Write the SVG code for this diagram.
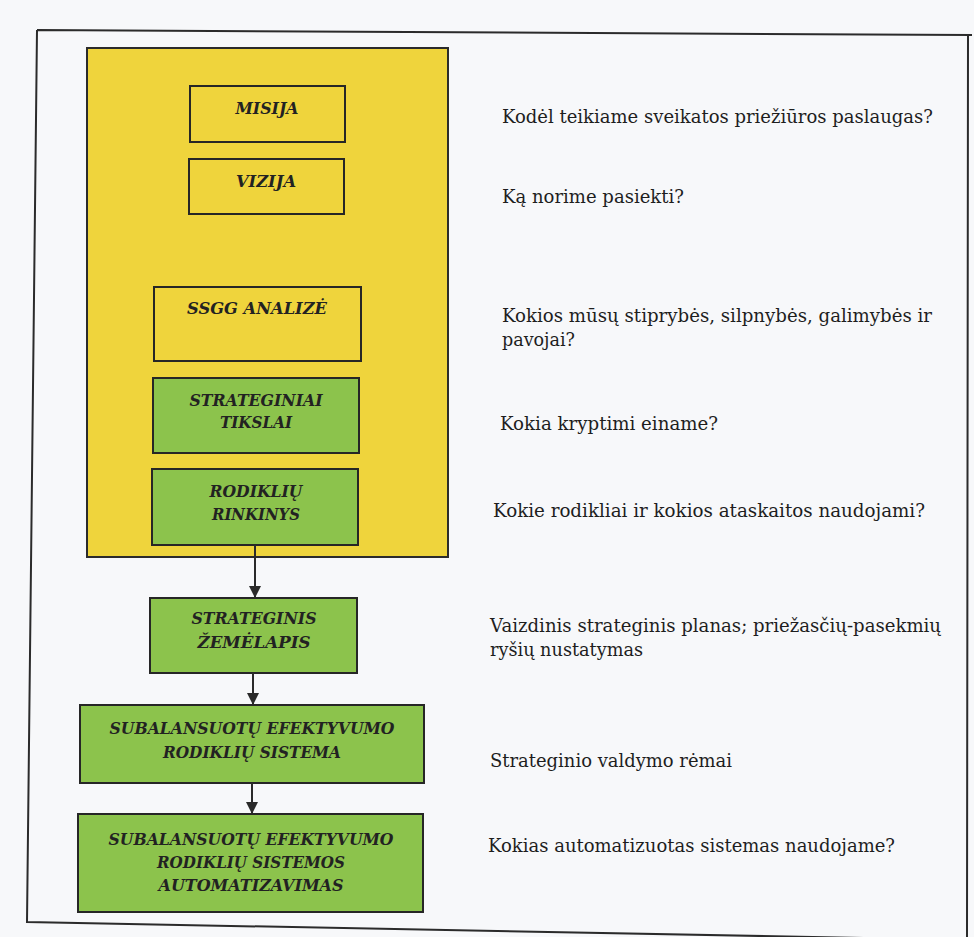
<svg xmlns="http://www.w3.org/2000/svg" width="974" height="937" viewBox="0 0 974 937">
  <defs>
    <marker id="arrow" markerWidth="12" markerHeight="12" refX="11" refY="6" orient="auto" markerUnits="userSpaceOnUse">
      <path d="M0,0 L12,6 L0,12 Z" fill="#2a2a2a"/>
    </marker>
  </defs>
  <style>
    .frame { fill: none; stroke: #2b2b2b; stroke-width: 2; }
    .panel { fill: #efd43c; stroke: #2b2b2b; stroke-width: 2; }
    .box-y { fill: #efd43c; stroke: #262626; stroke-width: 2; }
    .box-g { fill: #8cc34c; stroke: #262626; stroke-width: 2; }
    .lbl { font-family: "DejaVu Serif", serif; font-size: 17px; font-weight: bold; font-style: italic; fill: #222; text-anchor: middle; }
    .q { font-family: "DejaVu Serif", serif; font-size: 18px; fill: #1e1e1e; }
    .conn { stroke: #2a2a2a; stroke-width: 2; fill: none; marker-end: url(#arrow); }
  </style>

  <rect x="0" y="0" width="974" height="937" fill="#f7f8fa"/>

  <!-- outer frame -->
  <path class="frame" d="M37,30 L972,35 M968,35 L967,940 M37,30 L27,922 L968,940"/>

  <!-- planning panel -->
  <g id="planning-panel">
    <rect class="panel" x="87" y="48" width="361" height="509"/>
  </g>

  <g id="misija">
    <rect class="box-y" x="190" y="86" width="155" height="56"/>
    <text class="lbl" x="267" y="114" textLength="63" lengthAdjust="spacingAndGlyphs">MISIJA</text>
  </g>

  <g id="vizija">
    <rect class="box-y" x="189" y="159" width="155" height="55"/>
    <text class="lbl" x="266" y="187" textLength="60" lengthAdjust="spacingAndGlyphs">VIZIJA</text>
  </g>

  <g id="ssgg">
    <rect class="box-y" x="154" y="287" width="207" height="74"/>
    <text class="lbl" x="257" y="314" textLength="140" lengthAdjust="spacingAndGlyphs">SSGG ANALIZĖ</text>
  </g>

  <g id="tikslai">
    <rect class="box-g" x="153" y="378" width="206" height="75"/>
    <text class="lbl" x="256" y="406" textLength="133" lengthAdjust="spacingAndGlyphs">STRATEGINIAI</text>
    <text class="lbl" x="256" y="428" textLength="72" lengthAdjust="spacingAndGlyphs">TIKSLAI</text>
  </g>

  <g id="rinkinys">
    <rect class="box-g" x="152" y="469" width="206" height="76"/>
    <text class="lbl" x="256" y="497" textLength="93" lengthAdjust="spacingAndGlyphs">RODIKLIŲ</text>
    <text class="lbl" x="256" y="520" textLength="88" lengthAdjust="spacingAndGlyphs">RINKINYS</text>
  </g>

  <g id="zemelapis">
    <rect class="box-g" x="150" y="598" width="207" height="75"/>
    <text class="lbl" x="254" y="624" textLength="125" lengthAdjust="spacingAndGlyphs">STRATEGINIS</text>
    <text class="lbl" x="254" y="648" textLength="113" lengthAdjust="spacingAndGlyphs">ŽEMĖLAPIS</text>
  </g>

  <g id="sistema">
    <rect class="box-g" x="80" y="705" width="344" height="78"/>
    <text class="lbl" x="252" y="734" textLength="285" lengthAdjust="spacingAndGlyphs">SUBALANSUOTŲ EFEKTYVUMO</text>
    <text class="lbl" x="252" y="758" textLength="178" lengthAdjust="spacingAndGlyphs">RODIKLIŲ SISTEMA</text>
  </g>

  <g id="automatizavimas">
    <rect class="box-g" x="78" y="814" width="345" height="98"/>
    <text class="lbl" x="251" y="845" textLength="285" lengthAdjust="spacingAndGlyphs">SUBALANSUOTŲ EFEKTYVUMO</text>
    <text class="lbl" x="251" y="868" textLength="188" lengthAdjust="spacingAndGlyphs">RODIKLIŲ SISTEMOS</text>
    <text class="lbl" x="251" y="891" textLength="185" lengthAdjust="spacingAndGlyphs">AUTOMATIZAVIMAS</text>
  </g>

  <!-- connectors -->
  <g id="connectors">
    <line class="conn" x1="255" y1="545" x2="255" y2="597"/>
    <line class="conn" x1="253" y1="673" x2="253" y2="704"/>
    <line class="conn" x1="252" y1="783" x2="252" y2="813"/>
  </g>

  <!-- guiding questions -->
  <g id="questions">
    <text class="q" x="502" y="123" textLength="431" lengthAdjust="spacingAndGlyphs">Kodėl teikiame sveikatos priežiūros paslaugas?</text>
    <text class="q" x="502" y="203" textLength="182" lengthAdjust="spacingAndGlyphs">Ką norime pasiekti?</text>
    <text class="q" x="502" y="322" textLength="430" lengthAdjust="spacingAndGlyphs">Kokios mūsų stiprybės, silpnybės, galimybės ir</text>
    <text class="q" x="502" y="346" textLength="73" lengthAdjust="spacingAndGlyphs">pavojai?</text>
    <text class="q" x="500" y="430" textLength="218" lengthAdjust="spacingAndGlyphs">Kokia kryptimi einame?</text>
    <text class="q" x="493" y="517" textLength="432" lengthAdjust="spacingAndGlyphs">Kokie rodikliai ir kokios ataskaitos naudojami?</text>
    <text class="q" x="490" y="632" textLength="451" lengthAdjust="spacingAndGlyphs">Vaizdinis strateginis planas; priežasčių-pasekmių</text>
    <text class="q" x="490" y="656" textLength="153" lengthAdjust="spacingAndGlyphs">ryšių nustatymas</text>
    <text class="q" x="490" y="767" textLength="242" lengthAdjust="spacingAndGlyphs">Strateginio valdymo rėmai</text>
    <text class="q" x="488" y="852" textLength="407" lengthAdjust="spacingAndGlyphs">Kokias automatizuotas sistemas naudojame?</text>
  </g>
</svg>
